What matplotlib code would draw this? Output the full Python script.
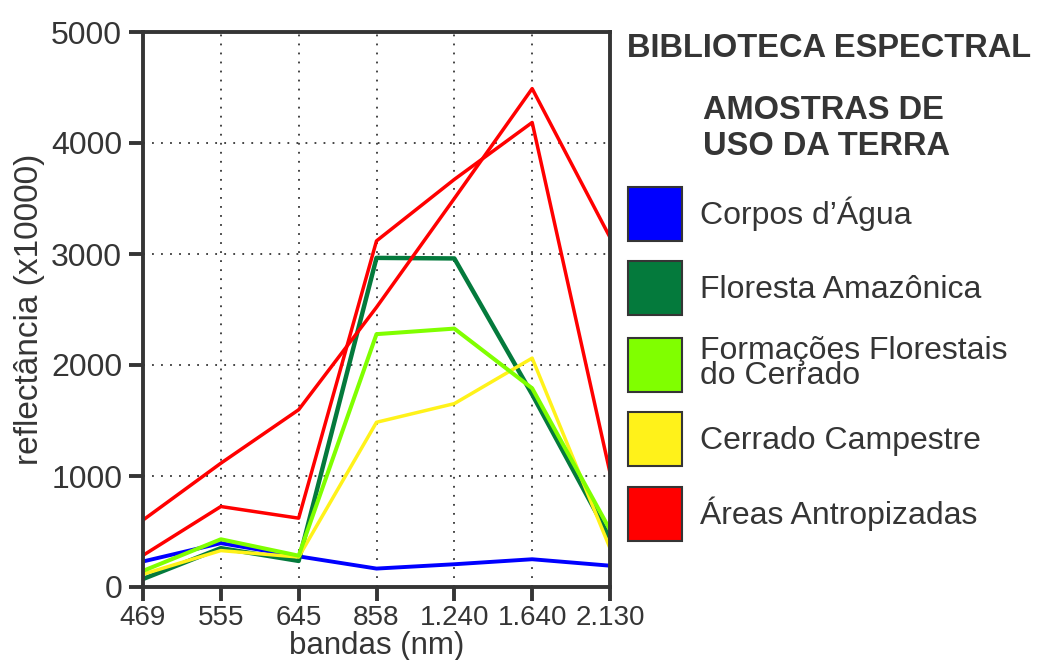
import matplotlib
matplotlib.use('Agg')
import matplotlib.pyplot as plt
from matplotlib.patches import Patch


bands = ['469', '555', '645', '858', '1.240', '1.640', '2.130']

corpos_agua = [230, 395, 276, 166, 205, 250, 192]
floresta_amazonica = [72, 350, 235, 2965, 2960, 1735, 440]
formacoes_florestais = [145, 430, 282, 2278, 2328, 1790, 515]
cerrado_campestre = [115, 328, 270, 1484, 1652, 2062, 350]
areas_antropizadas_1 = [603, 1115, 1597, 2520, 3500, 4490, 3150]
areas_antropizadas_2 = [285, 725, 620, 3118, 3672, 4185, 1030]

legend_labels = ['Corpos d\u2019\u00c1gua', 'Floresta Amaz\u00f4nica',
                 'Forma\u00e7\u00f5es Florestais\ndo Cerrado',
                 'Cerrado Campestre', '\u00c1reas Antropizadas']

BLUE = '#0000ff'
DKGREEN = '#047a3c'
LTGREEN = '#80ff00'
YELLOW = '#fff21a'
RED = '#ff0000'
INK = '#353535'


def main():

    plt.rcParams['font.family'] = ['Liberation Sans', 'DejaVu Sans']
    plt.rcParams['text.color'] = INK

    fig = plt.figure(figsize=(10.4, 6.6), dpi=100)
    ax = fig.add_axes([143 / 1040, 1 - 587 / 660, (610 - 143) / 1040, (587 - 32) / 660])

    x = list(range(len(bands)))

    ax.plot(x, corpos_agua, color=BLUE, lw=2.8)
    ax.plot(x, floresta_amazonica, color=DKGREEN, lw=3.2)
    ax.plot(x, cerrado_campestre, color=YELLOW, lw=2.5)
    ax.plot(x, formacoes_florestais, color=LTGREEN, lw=2.9)
    ax.plot(x, areas_antropizadas_1, color=RED, lw=2.5)
    ax.plot(x, areas_antropizadas_2, color=RED, lw=2.5)

    ax.set_xlim(0, len(bands) - 1)
    ax.set_ylim(0, 5000)
    ax.set_xticks(x)
    ax.set_xticklabels(bands)
    ax.set_yticks([0, 1000, 2000, 3000, 4000, 5000])

    ax.grid(True, linestyle=(0, (1, 4)), color=INK, lw=1.3)
    for s in ax.spines.values():
        s.set_color(INK)
        s.set_linewidth(2.8)
    ax.tick_params(direction='out', length=10, width=2.8, color=INK,
                   labelcolor=INK)
    ax.tick_params(axis='y', labelsize=23, pad=5)
    ax.tick_params(axis='x', labelsize=20, pad=3)

    ax.set_xlabel('bandas (nm)', fontsize=22.5, color=INK, labelpad=0)
    ax.set_ylabel('reflect\u00e2ncia (x10000)', fontsize=24, color=INK, labelpad=4)

    fig.text(627 / 1040, 1 - 57 / 660, 'BIBLIOTECA ESPECTRAL', fontsize=23.5,
             fontweight='bold', color=INK, ha='left', va='baseline')
    fig.text(703 / 1040, 1 - 119 / 660, 'AMOSTRAS DE', fontsize=23.5,
             fontweight='bold', color=INK, ha='left', va='baseline')
    fig.text(703 / 1040, 1 - 155 / 660, 'USO DA TERRA', fontsize=23.5,
             fontweight='bold', color=INK, ha='left', va='baseline')

    colors = [BLUE, DKGREEN, LTGREEN, YELLOW, RED]
    handles = [Patch(facecolor=c, edgecolor=INK, linewidth=1.5) for c in colors]
    leg = fig.legend(handles, legend_labels, loc='upper left',
                     bbox_to_anchor=(628 / 1040, 1 - 187 / 660),
                     frameon=False, borderpad=0, borderaxespad=0, fontsize=23,
                     handlelength=1.7, handleheight=2.22, handletextpad=0.56,
                     labelspacing=0.64)
    for t in leg.get_texts():
        t.set_linespacing(0.8)

    fig.savefig('out.png', dpi=100)


if __name__ == "__main__":
    main()
